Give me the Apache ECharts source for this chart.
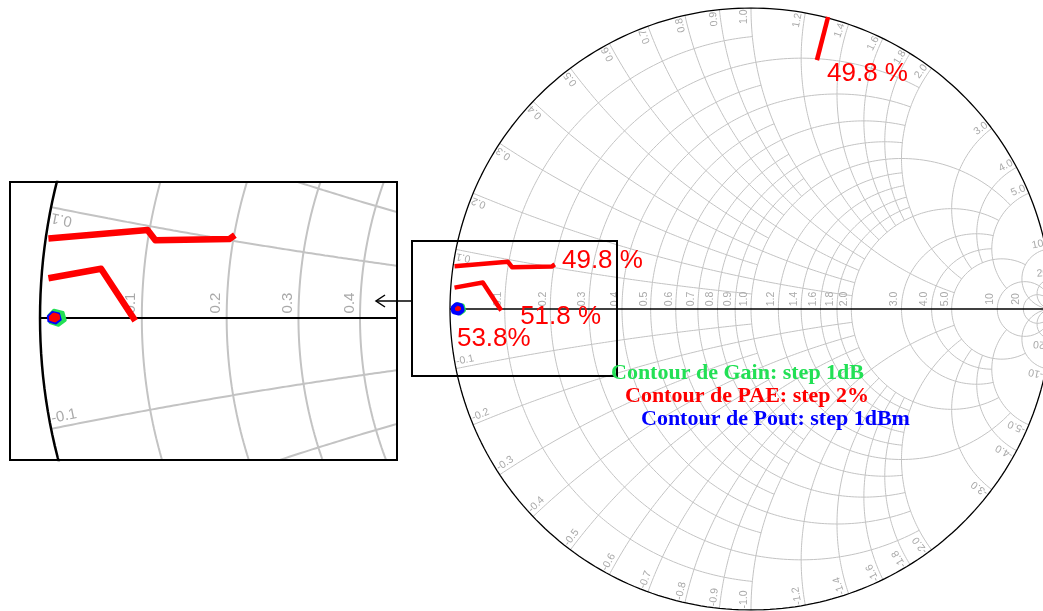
<!DOCTYPE html>
<html><head><meta charset="utf-8">
<script src="https://cdn.jsdelivr.net/npm/echarts/dist/echarts.min.js"></script>
<style>html,body{margin:0;padding:0;background:#fff;overflow:hidden}#c{width:1070px;height:611px}</style>
</head><body><div id="c"></div>
<script>
// ---- Smith chart grid definition ----
const rValues = [0.1,0.2,0.3,0.4,0.5,0.6,0.7,0.8,0.9,1.0,1.2,1.4,1.6,1.8,2.0,3.0,4.0,5.0,10,20];
const rMaxX   = [1,2,1,2,1,2,1,2,1,5,2,2,2,2,5,5,5,10,Infinity,Infinity];
const xValues = [0.1,0.2,0.3,0.4,0.5,0.6,0.7,0.8,0.9,1.0,1.2,1.4,1.6,1.8,2.0,3.0,4.0,5.0,10,20];
const xMaxR   = [1,2,1,2,1,2,1,2,1,5,2,2,2,2,5,5,5,10,Infinity,Infinity];
const rLabels = ['0.1','0.2','0.3','0.4','0.5','0.6','0.7','0.8','0.9','1.0','1.2','1.4','1.6','1.8','2.0','3.0','4.0','5.0','10','20'];
const xLabels = ['0.1','0.2','0.3','0.4','0.5','0.6','0.7','0.8','0.9','1.0','1.2','1.4','1.6','1.8','2.0','3.0','4.0','5.0','10','20'];
const insetRLabels = [0.1,0.2,0.3,0.4];
const insetXLabels = [0.1];

// ---- contour data (reflection coefficient, Re/Im) ----
const pae498Top = [[0.256,0.970],[0.219,0.827]];
const pae498 = [[-0.985,0.142],[-0.808,0.157],[-0.794,0.139],[-0.662,0.141],[-0.652,0.148]];
const pae518 = [[-0.985,0.071],[-0.891,0.088],[-0.830,-0.005]];
const gainContour = [[-0.984,0.005],[-0.975,0.014],[-0.959,0.010],[-0.955,-0.004],[-0.967,-0.013],[-0.982,-0.008]];
const poutContour = [[-0.986,0.003],[-0.978,0.011],[-0.966,0.008],[-0.963,-0.003],[-0.972,-0.010],[-0.985,-0.006]];
const paeMax      = [[-0.982,0.004],[-0.975,0.009],[-0.966,0.006],[-0.965,-0.002],[-0.973,-0.006],[-0.981,-0.004]];
const contourTexts = [
  {g:[0.2525,0.781], t:'49.8 %'},
  {g:[-0.628,0.159], t:'49.8 %'},
  {g:[-0.767,-0.027], t:'51.8 %'},
  {g:[-0.977,-0.100], t:'53.8%'}
];
const legendTexts = ['Contour de Gain: step 1dB','Contour de PAE: step 2%','Contour de Pout: step 1dBm'];
const legendColors = ['#22e055','#ff0000','#0000ff'];

function gam(r,x){const d=(r+1)*(r+1)+x*x;return [(r*r+x*x-1)/d, 2*x/d];}
function rCurve(r,xmax){const a=Math.min(Math.atan(xmax),Math.PI/2-1e-7);const N=300,p=[];for(let i=0;i<=N;i++){const t=-a+2*a*i/N;p.push(gam(r,Math.tan(t)));}return p;}
function xCurve(x,rmax){const a=Math.min(Math.atan(rmax),Math.PI/2-1e-7);const N=200,p=[];for(let i=0;i<=N;i++){const t=a*i/N;p.push(gam(Math.tan(t),x));}return p;}
function textW(s,f){let w=0;for(const ch of s){w+=(ch==='.'?0.278:ch==='-'?0.333:0.556);}return w*f;}

const series=[];
function addGrid(ai, lw, edgeW, axW){
  const base={type:'line',xAxisIndex:ai,yAxisIndex:ai,showSymbol:false,silent:true,animation:false,clip:true,z:1};
  rValues.forEach((r,i)=>series.push(Object.assign({},base,{data:rCurve(r,rMaxX[i]),lineStyle:{color:'#c3c3c3',width:lw}})));
  xValues.forEach((x,i)=>{
    series.push(Object.assign({},base,{data:xCurve(x,xMaxR[i]),lineStyle:{color:'#c3c3c3',width:lw}}));
    series.push(Object.assign({},base,{data:xCurve(-x,xMaxR[i]),lineStyle:{color:'#c3c3c3',width:lw}}));
  });
  series.push(Object.assign({},base,{data:rCurve(0,Infinity),lineStyle:{color:'#000',width:edgeW},z:3}));
  series.push(Object.assign({},base,{data:[[-1,0],[1,0]],lineStyle:{color:'#000',width:axW},z:3}));
}
addGrid(0,1,1.3,1.5);
addGrid(1,2,2.5,2);

function addLabels(ai, rl, xl, font, k){
  const items=[];
  rl.forEach(r=>{const i=rValues.indexOf(r);items.push({g:[(r-1)/(r+1),0],t:rLabels[i],kind:'r'});});
  xl.forEach(x=>{const i=xValues.indexOf(x);items.push({g:gam(0,x),t:xLabels[i],kind:'xp'});items.push({g:gam(0,-x),t:'-'+xLabels[i],kind:'xn'});});
  series.push({type:'custom',xAxisIndex:ai,yAxisIndex:ai,coordinateSystem:'cartesian2d',silent:true,animation:false,clip:true,z:2,
    data:items.map((it,i)=>[it.g[0],it.g[1],i]),
    renderItem:function(params,api){
      const it=items[params.dataIndex];const p=api.coord(it.g);
      let x,y,rot;
      if(it.kind==='r'){x=p[0]-7*k;y=p[1]-10*k;rot=Math.PI/2;}
      else{
        const a=Math.atan2(it.g[1],it.g[0]);
        const ux=Math.cos(a),uy=-Math.sin(a);
        const tl=textW(it.t,font);
        let tx,ty;
        if(it.kind==='xp'){tx=-Math.sin(a);ty=-Math.cos(a);rot=a;}else{tx=Math.sin(a);ty=Math.cos(a);rot=a+Math.PI;}
        const din=tl/2+1.5*k, dt=6.5*k;
        x=p[0]-ux*din+tx*dt;y=p[1]-uy*din+ty*dt;
      }
      return {type:'text',x:x,y:y,rotation:rot,style:{text:it.t,fill:'#a9a9a9',font:font+'px "Liberation Sans", Arial',align:'center',verticalAlign:'middle'}};
    }});
}
addLabels(0,rValues,xValues,10.5,1);
addLabels(1,insetRLabels,insetXLabels,15,1.5);

function addContours(ai, w){
  const b={type:'line',xAxisIndex:ai,yAxisIndex:ai,showSymbol:false,silent:true,animation:false,clip:true,z:5};
  [pae498Top,pae498,pae518].forEach(d=>series.push(Object.assign({},b,{data:d,lineStyle:{color:'#ff0000',width:w,cap:'butt',join:'round'}})));
  const polys=[[gainContour,'#22e055',ai===0?5:3,'#22e055'],[poutContour,'#0000ff',ai===0?7:2,'#ff0000'],[paeMax,'#ff0000',1,'#ff0000']];
  polys.forEach(pp=>series.push({type:'custom',xAxisIndex:ai,yAxisIndex:ai,coordinateSystem:'cartesian2d',silent:true,animation:false,z:6,
    data:[pp[0][0]],
    renderItem:function(params,api){return {type:'polygon',shape:{points:pp[0].map(q=>api.coord(q))},style:{fill:pp[3],stroke:pp[1],lineWidth:pp[2],lineJoin:'round'}};}}));
}
addContours(0,4.5);
addContours(1,6.5);

series.push({type:'custom',xAxisIndex:0,yAxisIndex:0,coordinateSystem:'cartesian2d',silent:true,animation:false,clip:false,z:7,
  data:contourTexts.map(c=>c.g),
  renderItem:function(params,api){const c=contourTexts[params.dataIndex];const p=api.coord(c.g);
    return {type:'text',x:p[0],y:p[1],style:{text:c.t,fill:'#ff0000',font:'26px "Liberation Sans Narrow", "Liberation Sans", Arial',align:'left',verticalAlign:'middle'}};}});

const chart=echarts.init(document.getElementById('c'),null,{renderer:'canvas'});
const legFont='bold 22px "Liberation Serif", "Times New Roman", serif';
chart.setOption({
  animation:false,
  grid:[{left:450,top:8,width:602,height:602},{left:10,top:182,width:387,height:278}],
  xAxis:[{type:'value',min:-1,max:1,show:false,gridIndex:0},{type:'value',min:-1.0536,max:-0.3625,show:false,gridIndex:1}],
  yAxis:[{type:'value',min:-1,max:1,show:false,gridIndex:0},{type:'value',min:-0.2536,max:0.2429,show:false,gridIndex:1}],
  series:series,
  graphic:[
    {type:'rect',shape:{x:10,y:182,width:387,height:278},style:{fill:'none',stroke:'#000',lineWidth:2},z:100},
    {type:'rect',shape:{x:412,y:241,width:205,height:135},style:{fill:'none',stroke:'#000',lineWidth:2},z:100},
    {type:'polyline',shape:{points:[[412,301],[376,301]]},style:{stroke:'#000',lineWidth:1.5},z:100},
    {type:'polyline',shape:{points:[[385,295],[376,301],[385,307]]},style:{stroke:'#000',lineWidth:1.5,fill:'none'},z:100},
    {type:'text',x:611,y:373,style:{text:legendTexts[0],fill:legendColors[0],font:legFont,verticalAlign:'middle'},z:100},
    {type:'text',x:625,y:396,style:{text:legendTexts[1],fill:legendColors[1],font:legFont,verticalAlign:'middle'},z:100},
    {type:'text',x:641,y:419,style:{text:legendTexts[2],fill:legendColors[2],font:legFont,verticalAlign:'middle'},z:100}
  ]
});
</script></body></html>
